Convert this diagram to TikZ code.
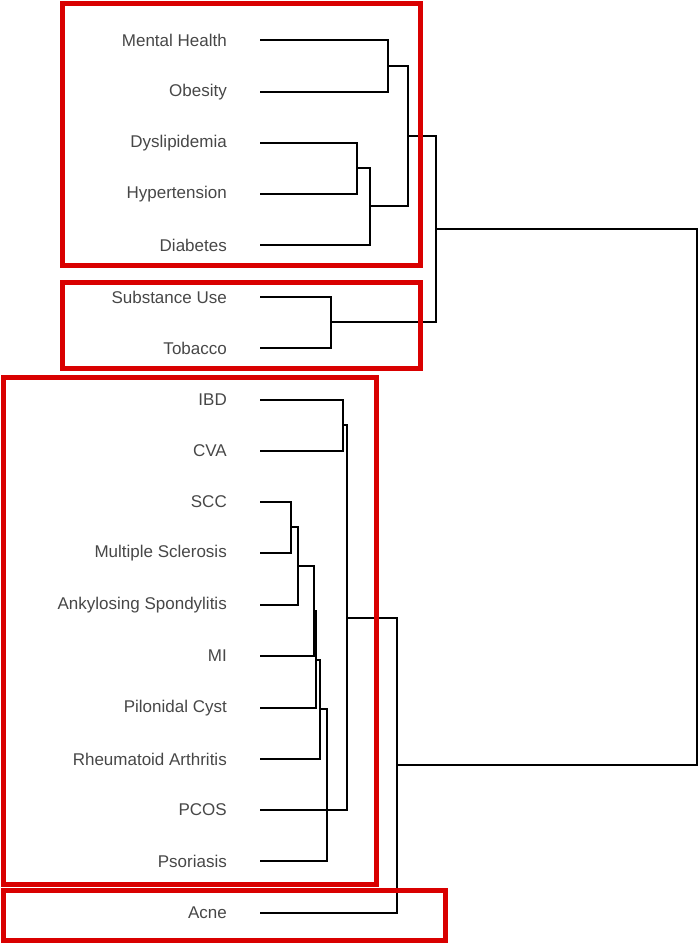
\documentclass[tikz,border=0pt]{standalone}
\usepackage{fontspec}
\setmainfont{Liberation Sans}
\usetikzlibrary{positioning}

\begin{document}
\begin{tikzpicture}[x=1pt, y=-1pt, font=\fontsize{17}{20}\selectfont,
    leaf/.style={anchor=east, text=black!72, inner sep=0pt},
    branch/.style={line width=1.6pt, black},
    group/.style={draw=red!85!black, line width=5pt}]
        \useasboundingbox (0,0) rectangle (700,945);

        % Leaves
        \foreach \name/\lab/\y in {mh/Mental Health/40, ob/Obesity/92, dy/Dyslipidemia/143,
            hy/Hypertension/194, di/Diabetes/245, su/Substance Use/297, to/Tobacco/348,
            ib/IBD/400, cv/CVA/451, sc/SCC/502, ms/Multiple Sclerosis/553,
            as/Ankylosing Spondylitis/605, mi/MI/656, pc/Pilonidal Cyst/708,
            ra/Rheumatoid Arthritis/759, po/PCOS/810, ps/Psoriasis/861, ac/Acne/913} {
            \node[leaf] (\name) at (227,\y) {\lab};
            \coordinate (\name-s) at (260,\y);
        }

        % Upper clusters
        \draw[branch] (mh-s) -| (388,66) |- (ob-s);
        \draw[branch] (dy-s) -| (357,168) |- (hy-s);
        \draw[branch] (357,168) -| (370,206) |- (di-s);
        \draw[branch] (388,66) -| (408,136) |- (370,206);
        \draw[branch] (su-s) -| (331,322) |- (to-s);
        \draw[branch] (408,136) -| (436,229) |- (331,322);

        % Lower clusters
        \draw[branch] (ib-s) -| (343,425) |- (cv-s);
        \draw[branch] (sc-s) -| (291,527) |- (ms-s);
        \draw[branch] (291,527) -| (298,566) |- (as-s);
        \draw[branch] (298,566) -| (314,611) |- (mi-s);
        \draw[branch] (314,611) -| (316,660) |- (pc-s);
        \draw[branch] (316,660) -| (320,709) |- (ra-s);
        \draw[branch] (320,709) -| (327,785) |- (ps-s);
        \draw[branch] (343,425) -| (347,618) |- (po-s);
        \draw[branch] (347,618) -| (397,765) |- (ac-s);

        % Root
        \draw[branch] (436,229) -| (697,500) |- (397,765);

        % Groups
        \draw[group] (62,3) rectangle (420,265);
        \draw[group] (62,282) rectangle (420,368);
        \draw[group] (3,377) rectangle (376,884);
        \draw[group] (3,890) rectangle (445,940);
\end{tikzpicture}
\end{document}
